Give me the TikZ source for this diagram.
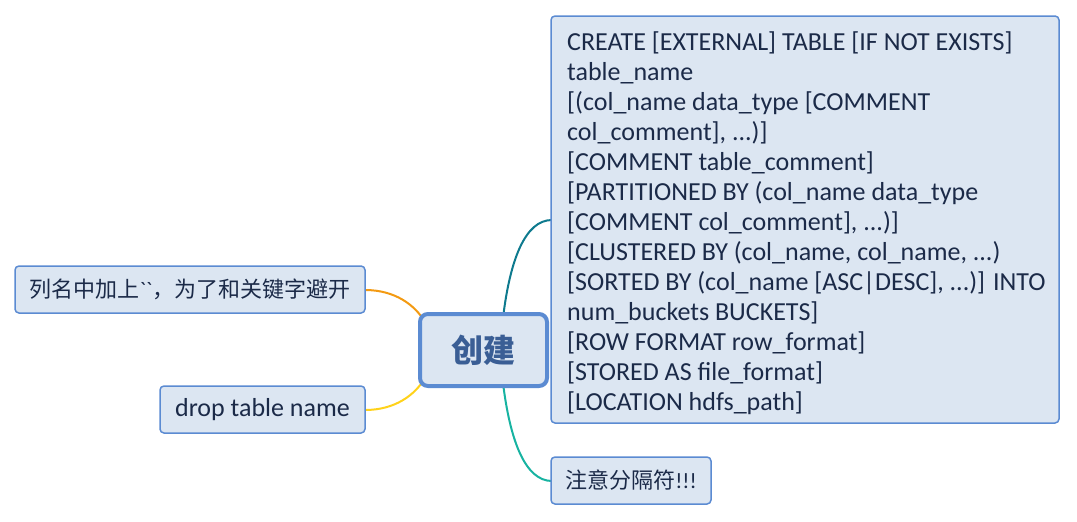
\documentclass[tikz,border=0pt]{standalone}
\usepackage{fontspec}
\setmainfont{Carlito}
\newfontfamily\cjk{Noto Sans CJK SC}
\newfontfamily\latraw{Carlito}
\definecolor{boxfill}{HTML}{DCE6F2}
\definecolor{boxline}{HTML}{5B8BD2}
\definecolor{txt}{HTML}{1B2A48}
\definecolor{ctxt}{HTML}{3A5E95}
\definecolor{corange}{HTML}{F39A12}
\definecolor{cyellow}{HTML}{FFD21A}
\definecolor{ctealA}{HTML}{0E7A8E}
\definecolor{ctealB}{HTML}{17B3A1}
\begin{document}
\begin{tikzpicture}[x=1pt,y=-1pt,
  topic/.style={draw=boxline, fill=boxfill, line width=1.5pt, rounded corners=4pt, text=txt, inner sep=0pt},
  center/.style={draw=boxline, fill=boxfill, line width=4pt, rounded corners=8pt, text=ctxt, inner sep=0pt},
  branch/.style={line width=2pt}]
\useasboundingbox (0,0) rectangle (1077,522);
\coordinate (ca) at (425,322);
\coordinate (cb) at (425,378);
\coordinate (ct) at (503,318);
\coordinate (cu) at (503,383);
\coordinate (bw) at (552,220);
\coordinate (l1e) at (365,290);
\coordinate (l2e) at (365,410);
\coordinate (nw) at (552,481);
\draw[branch, corange] (l1e) .. controls (395,290) and (415,305) .. (ca);
\draw[branch, cyellow] (l2e) .. controls (395,410) and (415,395) .. (cb);
\draw[branch, ctealA] (ct) .. controls (510,260) and (525,220) .. (bw);
\draw[branch, ctealB] (cu) .. controls (510,440) and (525,481) .. (nw);
\node[center, minimum width=127pt, minimum height=72pt, font=\cjk\bfseries\fontsize{32}{36}\selectfont] (c) at (483.5,350) {创建};
\node[topic, minimum width=350pt, minimum height=47pt, font=\cjk\fontsize{22}{24}\selectfont] (l1) at (190,289.5) {列名中加上{\latraw ``}，为了和关键字避开};
\node[topic, minimum width=205pt, minimum height=47pt, font=\fontsize{26}{28}\selectfont] (l2) at (262.5,409.5) {drop table name};
\node[topic, minimum width=508pt, minimum height=407pt] (big) at (805,219.5) {};
\node[text=txt, inner sep=0pt, align=left, anchor=west, font=\fontsize{26}{30}\selectfont] (bigtxt) at (567,223) {%
CREATE [EXTERNAL] TABLE [IF NOT EXISTS]\\\relax
table\_name\\\relax
[(col\_name data\_type [COMMENT\\\relax
col\_comment], ...)]\\\relax
[COMMENT table\_comment]\\\relax
[PARTITIONED BY (col\_name data\_type\\\relax
[COMMENT col\_comment], ...)]\\\relax
[CLUSTERED BY (col\_name, col\_name, ...)\\\relax
[SORTED BY (col\_name [ASC|DESC], ...)] INTO\\\relax
num\_buckets BUCKETS]\\\relax
[ROW FORMAT row\_format]\\\relax
[STORED AS file\_format]\\\relax
[LOCATION hdfs\_path]};
\node[topic, minimum width=160pt, minimum height=47pt, font=\cjk\fontsize{22}{24}\selectfont] (n) at (631,480.5) {注意分隔符{\rmfamily!!!}};
\end{tikzpicture}
\end{document}
